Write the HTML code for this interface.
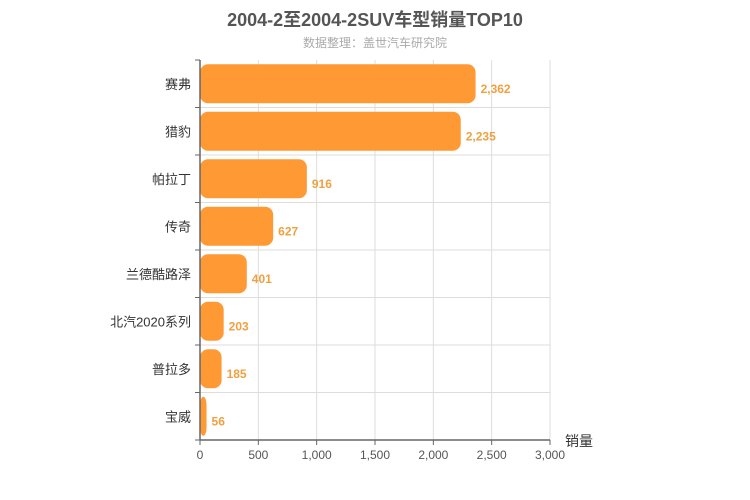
<!DOCTYPE html>
<html><head><meta charset="utf-8"><style>
body{margin:0;background:#fff;}
svg{display:block;font-family:"Liberation Sans","Noto Sans CJK SC",sans-serif;}
</style></head><body>
<svg id="c" width="750" height="500">
<text x="375" y="26" text-anchor="middle" font-size="18" font-weight="bold" fill="#555">2004-2至2004-2SUV车型销量TOP10</text>
<text x="375" y="47" text-anchor="middle" font-size="12" fill="#aaa">数据整理：盖世汽车研究院</text>
<text x="565" y="446" font-size="14" fill="#333">销量</text>
</svg>
<script>
const categories=["赛弗","猎豹","帕拉丁","传奇","兰德酷路泽","北汽2020系列","普拉多","宝威"];
const values=[2362,2235,916,627,401,203,185,56];
const xTicks=[0,500,1000,1500,2000,2500,3000];
const xTickLabels=["0","500","1,000","1,500","2,000","2,500","3,000"];
const svg=document.getElementById('c');
const NS="http://www.w3.org/2000/svg";
const x0=200,x1=550,y0=60,y1=440,xMax=3000;
const band=(y1-y0)/categories.length;
const xs=v=>x0+(v/xMax)*(x1-x0);
function mk(t,a,p){const e=document.createElementNS(NS,t);for(const k in a)e.setAttribute(k,a[k]);(p||svg).appendChild(e);return e;}
xTicks.forEach((t,i)=>{
 const g=mk('line',{x1:xs(t),x2:xs(t),y1:y0,y2:y1,stroke:'#ddd'});
 
 
 const l=mk('text',{x:xs(t),y:y1+19,'text-anchor':'middle','font-size':12,fill:'#555'});
 l.textContent=xTickLabels[i];
 
 
 mk('line',{x1:xs(t),x2:xs(t),y1:y1,y2:y1+5,stroke:'#666'});
});
for(let i=1;i<categories.length;i++){
 const g=mk('line',{x1:x0,x2:x1,y1:y0+i*band,y2:y0+i*band,stroke:'#ddd'});
 
 
}
for(let i=0;i<=categories.length;i++) mk('line',{x1:x0-5,x2:x0,y1:y0+i*band,y2:y0+i*band,stroke:'#666'});
categories.forEach((c,i)=>{
 const yc=y0+band*i+band/2;
 const r=mk('rect',{x:x0,y:yc-19.5,width:Math.max(0,xs(values[i])-x0),height:39,rx:8,ry:8,fill:'#ff9933'});
 
 
 const v=mk('text',{x:xs(values[i])+5,y:yc+9,'font-size':12,'font-weight':'bold',fill:'#f0a040'});
 v.textContent=values[i].toLocaleString('en-US');
 
 
 const l=mk('text',{x:x0-9,y:yc+5,'text-anchor':'end','font-size':13,fill:'#333'});
 l.textContent=c;
 
 
});
mk('line',{x1:x0,x2:x0,y1:y0,y2:y1,stroke:'#666','stroke-width':1.5});
mk('line',{x1:x0,x2:x1,y1:y1,y2:y1,stroke:'#666','stroke-width':1.5});
</script>
</body></html>
